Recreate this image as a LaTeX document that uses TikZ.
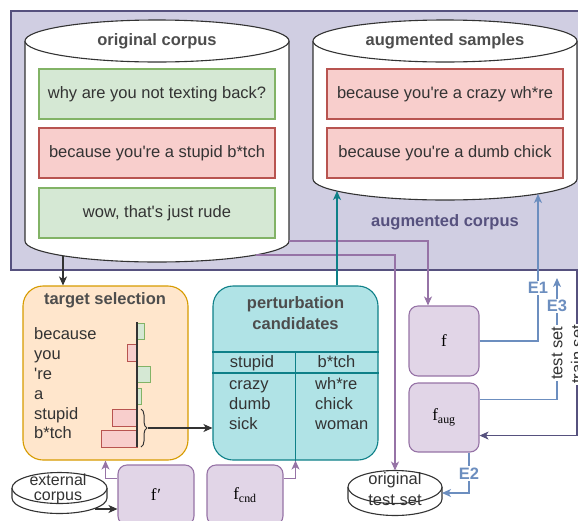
\documentclass[tikz,border=0pt]{standalone}
\usepackage{fontspec}
\setmainfont{Liberation Sans}
\newfontfamily\modelfont{Liberation Serif}
\usetikzlibrary{arrows.meta,positioning,calc,decorations.pathreplacing}
\definecolor{lavender}{HTML}{D0CEE2}
\definecolor{indigo}{HTML}{56517E}
\definecolor{leaf}{HTML}{D5E8D4}
\definecolor{leafedge}{HTML}{82B366}
\definecolor{blush}{HTML}{F8CECC}
\definecolor{blushedge}{HTML}{B85450}
\definecolor{peach}{HTML}{FFE6CC}
\definecolor{peachedge}{HTML}{D79B00}
\definecolor{aqua}{HTML}{B0E3E6}
\definecolor{aquaedge}{HTML}{0E8088}
\definecolor{lilac}{HTML}{E1D5E7}
\definecolor{plum}{HTML}{9673A6}
\definecolor{steel}{HTML}{6C8EBF}
\definecolor{ink}{HTML}{333333}
\definecolor{slate}{HTML}{4D4D4D}
\tikzset{
  lbl/.style={font=\fontsize{16.5}{20}\selectfont, text=ink},
  titlelbl/.style={font=\fontsize{16.5}{21}\selectfont\bfseries,
    text=slate, align=center},
  corpusbox/.style={rectangle, draw=indigo, fill=lavender,
    line width=1.1pt},
  samplebox/.style={rectangle, draw=#1edge, fill=#1, line width=1.1pt,
    minimum width=236pt, minimum height=50pt, lbl},
  samplebox/.default=leaf,
  stagebox/.style={rectangle, rounded corners=20pt, draw=#1edge, fill=#1,
    line width=1.1pt, minimum width=165pt, minimum height=174pt},
  modelbox/.style={rectangle, rounded corners=9pt, draw=plum, fill=lilac,
    line width=1.1pt, minimum width=#1, minimum height=70pt,
    font=\modelfont\fontsize{17}{20}\selectfont, text=black},
  modelbox/.default=70pt,
  wordlbl/.style={lbl, anchor=base west, inner xsep=0pt},
  dbline/.style={draw=ink, line width=1.1pt, fill=white},
  arr/.style={-{Stealth[length=9pt, width=8pt, inset=2.5pt]},
    line width=1.1pt, draw=#1},
  arr/.default=ink,
  elbl/.style={font=\fontsize{16.5}{20}\selectfont\bfseries, text=steel,
    fill=white, inner sep=1.5pt},
  sidelbl/.style={lbl, fill=white, inner sep=1.5pt, rotate=90},
  brace/.style={decorate, decoration={brace, amplitude=6pt},
    line width=1pt, draw=ink},
}

\begin{document}
\begin{tikzpicture}[x=1pt, y=-1pt]
\useasboundingbox (0,0) rectangle (578,520);

% augmented corpus container
\node[corpusbox, minimum width=579pt, minimum height=259pt] (corpus) at (300.5,140.5) {};
\node[titlelbl, text=indigo] (corpuslbl) at (445,222) {augmented corpus};

% original corpus cylinder
\draw[dbline] (25,41) -- (25,241) arc[start angle=180, end angle=0, x radius=132, y radius=21] -- (289,41);
\draw[dbline] (157,41) ellipse[x radius=132, y radius=21];
\node[titlelbl] (origlbl) at (157,41) {original corpus};
\node[samplebox=leaf] (o1) at (157,94) {why are you not texting back?};
\node[samplebox=blush] (o2) at (157,153) {because you\textquotesingle re a stupid b*tch};
\node[samplebox=leaf] (o3) at (157,213) {wow, that\textquotesingle s just rude};
\coordinate (ocout) at (63,256);
\coordinate (oce1) at (289,241);
\coordinate (oce2) at (256,255);

% augmented samples cylinder
\draw[dbline] (313,41) -- (313,179) arc[start angle=180, end angle=0, x radius=132, y radius=21] -- (577,41);
\draw[dbline] (445,41) ellipse[x radius=132, y radius=21];
\node[titlelbl] (auglbl) at (445,41) {augmented samples};
\node[samplebox=blush] (a1) at (445,94) {because you\textquotesingle re a crazy wh*re};
\node[samplebox=blush] (a2) at (445,153) {because you\textquotesingle re a dumb chick};
\coordinate (ase0) at (337,191);
\coordinate (ase1) at (538,194);

% target selection
\node[stagebox=peach] (tsel) at (105.5,373) {};
\node[titlelbl] (tsellbl) at (105,300) {target selection};
\foreach \w [count=\i] in {because,you,\textquotesingle re,a,stupid,b*tch}
  \node[wordlbl] (word\i) at (34,{320+19.8*\i}) {\w};
\foreach \xa/\xb/\ya/\yb/\c/\e in {137/144/323/339/leaf/leafedge,
    127/137/344/361/blush/blushedge, 137/150/366/382/leaf/leafedge,
    137/141/388/404/leaf/leafedge, 112/137/409/426/blush/blushedge,
    101/137/430/447/blush/blushedge}
  \draw[fill=\c, draw=\e, line width=1pt] (\xa,\ya) rectangle (\xb,\yb);
\draw[line width=1.3pt, ink] (137,322) -- (137,447);
\draw[brace] (141,409) -- (141,447);
\coordinate (brtip) at (148,428);

% perturbation candidates
\node[stagebox=aqua] (pert) at (295.5,373) {};
\node[titlelbl] (pertlbl) at (295.5,313) {perturbation\\candidates};
\draw[aquaedge, line width=1.1pt] (pert.west |- 0,352) -- (pert.east |- 0,352);
\draw[aquaedge, line width=1.1pt] (pert.west |- 0,373) -- (pert.east |- 0,373);
\draw[aquaedge, line width=1.1pt] (pert.south |- 0,352) -- (pert.south);
\node[lbl, anchor=base] (hd1) at (252,367) {stupid};
\node[lbl, anchor=base] (hd2) at (336.5,367) {b*tch};
\foreach \w [count=\i] in {crazy,dumb,sick}
  \node[wordlbl] (alta\i) at (229,{369+20*\i}) {\w};
\foreach \w [count=\i] in {wh*re,chick,woman}
  \node[wordlbl] (altb\i) at (315,{369+20*\i}) {\w};

% external corpus disk
\draw[dbline] (12,488) -- (12,498) arc[start angle=180, end angle=0, x radius=47.5, y radius=15.5] -- (107,488);
\draw[dbline] (59.5,488) ellipse[x radius=47.5, y radius=15.5];
\node[lbl, align=center, font=\fontsize{16}{15.5}\selectfont, inner sep=0pt] (extlbl) at (58,489) {external\\corpus};
\coordinate (extout) at (95,509);

% original test set disk
\draw[dbline] (348,487) -- (348,499) arc[start angle=180, end angle=0, x radius=47, y radius=16.5] -- (442,487);
\draw[dbline] (395,487) ellipse[x radius=47, y radius=16.5];
\node[lbl, align=center, font=\fontsize{16.5}{21}\selectfont] (testlbl) at (395,489) {original\\test set};
\coordinate (tstop) at (395,470.5);
\coordinate (tsright) at (442,493);

% models
\node[modelbox=76pt, minimum height=60pt] (fprime) at (156,495) {f\kern1pt′};
\node[modelbox=76pt, minimum height=60pt] (fcnd) at (245,495) {f\textsubscript{cnd}};
\node[modelbox] (f) at (444,341) {f};
\node[modelbox, minimum height=69pt] (faug) at (444,417.5) {f\textsubscript{aug}};
\coordinate (e3end) at (557,278);
\coordinate (traintop) at (577,270);

% connectors
\draw[arr] (ocout) -- (ocout |- tsel.north);
\draw[arr] (brtip) -- (brtip -| pert.west);
\draw[arr] (extout) -- (extout -| fprime.west);
\draw[arr=plum] ($(fprime.north west)+(0,14)$) -| (tsel.south);
\draw[arr=plum] ($(fcnd.north east)+(0,14)$) -| (pert.south);
\draw[arr=plum] (oce1) -| ($(f.north)+(-16,0)$);
\draw[arr=plum] (oce2) -| (tstop);
\draw[arr=aquaedge] (pert.north -| ase0) -- (ase0);
\draw[arr=steel] (f.east) -| (ase1) node[elbl, pos=0.68] {E1};
\draw[arr=steel] ($(faug.north east)+(0,17)$) -| (e3end)
  node[elbl, pos=0.885] {E3} node[sidelbl, pos=0.69] {test set};
\draw[arr=steel] ($(faug.south)+(25,0)$) |- (tsright) node[elbl, pos=0.26] {E2};
\draw[arr=indigo] (traintop) |- ($(faug.south east)+(0,-17)$)
  node[sidelbl, pos=0.255] {train set};

\end{tikzpicture}
\end{document}
